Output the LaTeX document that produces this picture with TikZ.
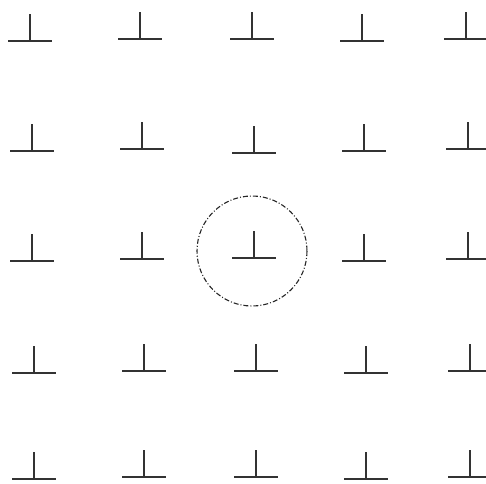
\documentclass[tikz,border=0pt]{standalone}
\usepackage{tikz}
\tikzset{
	dislline/.style={line width=2pt, black!80}
}
\tikzset{
	burgers/.style={line width=1.1pt, black!85, dash pattern=on 5pt off 2pt on 1pt off 2pt}
}
\tikzset{
	edgedisl/.pic={\draw[dislline] (-22,0) -- (22,0) (0,0) -- (0,-27);}
}
\begin{document}
\begin{tikzpicture}[x=1pt, y=-1pt]
      \useasboundingbox (0,0) rectangle (486,483);
      \clip (0,0) rectangle (486,483);
      \foreach \x/\y in {30/41, 140/39, 252/39, 362/41, 466/39,
                         32/151, 142/149, 254/153, 364/151, 468/149,
                         32/261, 142/259, 254/258, 364/261, 468/259,
                         34/373, 144/371, 256/371, 366/373, 470/371,
                         34/479, 144/477, 256/477, 366/479, 470/477}
        \pic at (\x,\y) {edgedisl};
      \draw[burgers] (252,251) circle[radius=55];
    \end{tikzpicture}
\end{document}
